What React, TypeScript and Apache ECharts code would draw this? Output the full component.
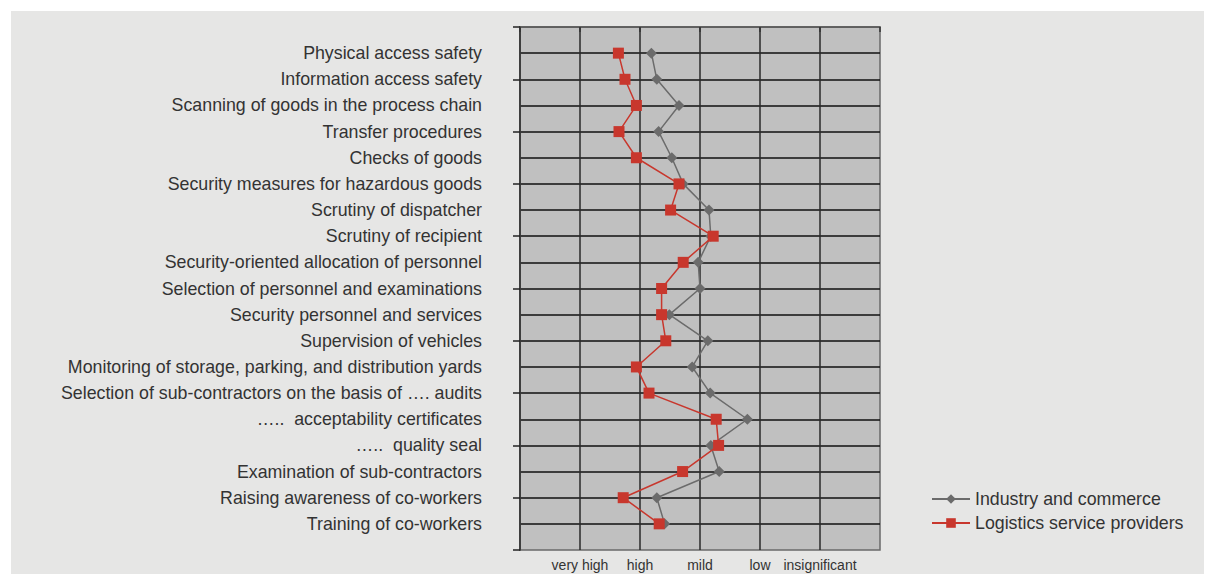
import React, { useEffect, useRef } from "react";
import * as echarts from "echarts";

const categories = [
  "Physical access safety",
  "Information access safety",
  "Scanning of goods in the process chain",
  "Transfer procedures",
  "Checks of goods",
  "Security measures for hazardous goods",
  "Scrutiny of dispatcher",
  "Scrutiny of recipient",
  "Security-oriented allocation of personnel",
  "Selection of personnel and examinations",
  "Security personnel and services",
  "Supervision of vehicles",
  "Monitoring of storage, parking, and distribution yards",
  "Selection of sub-contractors on the basis of …. audits",
  "…..  acceptability certificates",
  "…..  quality seal",
  "Examination of sub-contractors",
  "Raising awareness of co-workers",
  "Training of co-workers",
];

const ratingLabels = ["", "very high", "high", "mild", "low", "insignificant", ""];

const industryValues = [
  2.19, 2.28, 2.65, 2.31, 2.53, 2.72, 3.15, 3.18, 2.97, 3.0, 2.49, 3.13, 2.87, 3.17, 3.79, 3.18, 3.32, 2.28, 2.41,
];

const logisticsValues = [
  1.64, 1.75, 1.94, 1.65, 1.94, 2.65, 2.51, 3.22, 2.72, 2.36, 2.36, 2.43, 1.94, 2.15, 3.27, 3.31, 2.71, 1.72, 2.32,
];

const seriesNames = ["Industry and commerce", "Logistics service providers"];

export default function App() {
  const ref = useRef<HTMLDivElement>(null);

  useEffect(() => {
    if (!ref.current) return;
    const chart = echarts.init(ref.current, null, { renderer: "svg" });
    const font = "'Liberation Sans', Arial, Helvetica, sans-serif";
    chart.setOption({
      animation: false,
      backgroundColor: "#e6e6e5",
      textStyle: { fontFamily: font },
      grid: {
        left: 509,
        top: 16,
        width: 360,
        height: 523,
        show: true,
        backgroundColor: "#c0c0c0",
        borderColor: "#6a6a6a",
        borderWidth: 1.5,
      },
      legend: {
        orient: "vertical",
        left: 915,
        top: 474,
        itemWidth: 38,
        itemHeight: 12,
        itemGap: 6,
        data: seriesNames,
        textStyle: { fontSize: 17.8, color: "#333", fontFamily: font },
      },
      xAxis: {
        type: "value",
        min: 0,
        max: 6,
        interval: 1,
        axisLine: { show: true, lineStyle: { color: "#555", width: 1.5 } },
        axisTick: { show: true, length: 5, lineStyle: { color: "#333", width: 1.5 } },
        axisLabel: {
          fontSize: 14,
          color: "#333",
          margin: 8,
          formatter: (v: number) => ratingLabels[Math.round(v)] ?? "",
        },
        splitLine: {
          show: true,
          showMinLine: false,
          showMaxLine: false,
          lineStyle: { color: "#2a2a2a", width: 1.5 },
        },
      },
      yAxis: [
        {
          type: "value",
          min: 0,
          max: 20,
          interval: 1,
          inverse: true,
          axisLine: { show: true, lineStyle: { color: "#555", width: 1.5 } },
          axisTick: { show: false },
          axisLabel: {
            fontSize: 17.8,
            color: "#333",
            margin: 38,
            formatter: (v: number) => categories[Math.round(v) - 1] ?? "",
          },
          splitLine: {
            show: true,
            showMinLine: false,
            showMaxLine: false,
            lineStyle: { color: "#111", width: 1.5 },
          },
        },
        {
          type: "value",
          min: 0,
          max: 20,
          interval: 2,
          inverse: true,
          position: "left",
          axisLine: { show: true, lineStyle: { color: "#333", width: 1.5 } },
          axisTick: { show: true, length: 7, lineStyle: { color: "#222", width: 1.5 } },
          axisLabel: { show: false },
          splitLine: { show: false },
        },
      ],
      series: [
        {
          name: seriesNames[0],
          type: "line",
          yAxisIndex: 0,
          data: industryValues.map((v, i) => [v, i + 1]),
          symbol: "diamond",
          symbolSize: 11,
          itemStyle: { color: "#6b6b6b" },
          lineStyle: { color: "#6b6b6b", width: 1.5 },
          z: 3,
        },
        {
          name: seriesNames[1],
          type: "line",
          yAxisIndex: 0,
          data: logisticsValues.map((v, i) => [v, i + 1]),
          symbol: "rect",
          symbolSize: 11,
          itemStyle: { color: "#c8372d" },
          lineStyle: { color: "#c8372d", width: 1.5 },
          z: 4,
        },
      ],
    });
    return () => chart.dispose();
  }, []);

  return (
    <div
      ref={ref}
      style={{ position: "relative", left: 3, top: 3, width: 1196, height: 570 }}
    />
  );
}
